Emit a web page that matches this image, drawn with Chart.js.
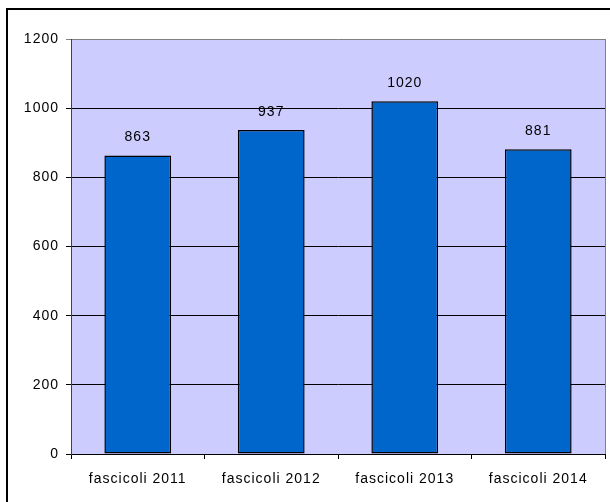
<!DOCTYPE html>
<html>
<head>
<meta charset="utf-8">
<script src="https://cdn.jsdelivr.net/npm/chart.js@4/dist/chart.umd.min.js"></script>
<style>
  html, body { margin: 0; padding: 0; background: #fff; }
  #wrap { position: relative; width: 610px; height: 502px; overflow: hidden; }
  #frame { position: absolute; left: 6px; top: 8px; width: 700px; height: 600px;
           border-left: 2px solid #000; border-top: 2px solid #000; }
  canvas { position: absolute; left: 0; top: 0; }
</style>
</head>
<body>
<div id="wrap">
  <div id="frame"></div>
  <canvas id="chart" width="610" height="502"></canvas>
</div>
<script>
// values
const categories = ['fascicoli 2011', 'fascicoli 2012', 'fascicoli 2013', 'fascicoli 2014'];
const counts     = [863, 937, 1020, 881];
const yTicks     = [0, 200, 400, 600, 800, 1000, 1200];

const font = { family: 'Liberation Sans, Arial, sans-serif', size: 14 };

// lavender plot area, right border, value labels
const plotDeco = {
  id: 'plotDeco',
  beforeDraw(chart) {
    const { ctx, chartArea: a } = chart;
    ctx.letterSpacing = '1px';
    ctx.save();
    ctx.fillStyle = '#ccccff';
    ctx.fillRect(a.left, a.top, a.right - a.left, a.bottom - a.top);
    ctx.restore();
  },
  afterDatasetsDraw(chart) {
    const { ctx, chartArea: a } = chart;
    ctx.save();
    ctx.strokeStyle = '#808080';
    ctx.lineWidth = 1;
    ctx.beginPath();
    ctx.moveTo(a.right + 0.5, a.top);
    ctx.lineTo(a.right + 0.5, a.bottom);
    ctx.stroke();

    ctx.fillStyle = '#000';
    ctx.font = font.size + 'px ' + font.family;
    ctx.textAlign = 'center';
    ctx.textBaseline = 'bottom';
    chart.getDatasetMeta(0).data.forEach((bar, i) => {
      ctx.fillText(String(counts[i]), bar.x, bar.y - 11);
    });
    ctx.restore();
  }
};

new Chart(document.getElementById('chart'), {
  type: 'bar',
  data: {
    labels: categories,
    datasets: [{
      data: counts,
      backgroundColor: '#0066cc',
      borderColor: '#000',
      borderWidth: 1.5,
      borderSkipped: false,
      barPercentage: 0.5,
      categoryPercentage: 1
    }]
  },
  options: {
    responsive: false,
    animation: false,
    layout: { padding: { left: 0, top: 39, right: 5, bottom: 0 } },
    plugins: { legend: { display: false }, tooltip: { enabled: false } },
    scales: {
      x: {
        offset: true,
        afterFit: s => { s.height = 48; },
        grid: { offset: true, drawOnChartArea: false, drawTicks: true, tickLength: 5, color: '#000' },
        border: { color: '#000' },
        ticks: { color: '#000', font, padding: 12, maxRotation: 0 }
      },
      y: {
        min: 0, max: 1200,
        afterFit: s => { s.width = 71; },
        afterBuildTicks: s => { s.ticks = yTicks.map(v => ({ value: v })); },
        grid: {
          tickLength: 5,
          color: c => c.tick && c.tick.value === 1200 ? '#808080' : '#000'
        },
        border: { color: '#404040' },
        ticks: { color: '#000', font, padding: 7, callback: v => String(v) }
      }
    }
  },
  plugins: [plotDeco]
});
</script>
</body>
</html>
